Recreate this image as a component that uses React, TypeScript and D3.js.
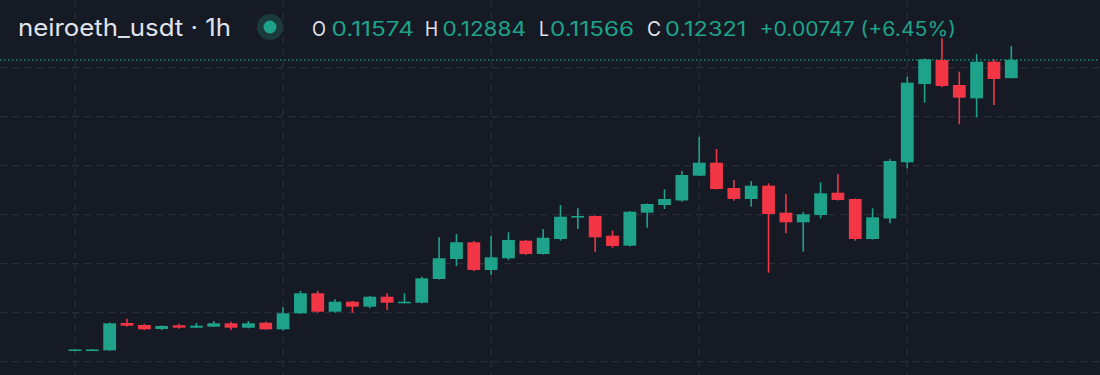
import React from "react";
import * as d3 from "d3";

const opens = [0.0046, 0.0046, 0.00465, 0.0158, 0.01498, 0.01335, 0.01486, 0.01388, 0.01429, 0.01567, 0.01388, 0.01592, 0.01322, 0.01976, 0.02792, 0.02041, 0.02449, 0.02245, 0.02653, 0.02384, 0.02408, 0.03376, 0.04192, 0.04874, 0.03743, 0.04221, 0.04939, 0.04396, 0.05008, 0.05894, 0.05947, 0.05143, 0.04735, 0.06082, 0.06396, 0.0658, 0.07592, 0.08122, 0.0709, 0.06641, 0.07184, 0.06082, 0.0569, 0.05988, 0.06898, 0.06641, 0.05008, 0.05845, 0.08139, 0.11335, 0.12314, 0.11294, 0.10751, 0.12245, 0.11574];
const highs = [0.0051, 0.0051, 0.016, 0.01755, 0.0154, 0.0148, 0.0155, 0.0158, 0.01661, 0.0163, 0.0166, 0.0164, 0.0222, 0.02886, 0.02886, 0.02547, 0.0248, 0.0268, 0.02792, 0.0279, 0.0347, 0.05078, 0.05212, 0.0493, 0.05143, 0.05282, 0.0497, 0.05416, 0.06396, 0.06261, 0.0597, 0.05347, 0.0615, 0.0646, 0.07037, 0.07784, 0.09184, 0.08682, 0.07416, 0.07376, 0.07282, 0.06845, 0.0611, 0.07322, 0.07661, 0.0666, 0.06261, 0.08261, 0.11633, 0.12376, 0.132, 0.11837, 0.12559, 0.12343, 0.12884];
const lows = [0.0045, 0.0045, 0.0044, 0.0144, 0.0129, 0.0129, 0.0134, 0.0138, 0.0142, 0.01294, 0.0136, 0.013, 0.0127, 0.0195, 0.02, 0.02, 0.02, 0.0218, 0.0211, 0.0238, 0.0238, 0.0336, 0.03906, 0.037, 0.03539, 0.0415, 0.0437, 0.0438, 0.0494, 0.05416, 0.0449, 0.0465, 0.047, 0.05469, 0.06233, 0.0653, 0.0758, 0.0703, 0.06571, 0.06327, 0.03633, 0.05241, 0.0449, 0.05853, 0.0658, 0.0494, 0.0499, 0.05649, 0.07894, 0.10571, 0.112, 0.0969, 0.09976, 0.10478, 0.11566];
const closes = [0.005, 0.005, 0.01567, 0.0147, 0.01322, 0.01457, 0.01388, 0.0147, 0.01567, 0.01388, 0.01567, 0.01322, 0.01976, 0.02792, 0.02041, 0.02449, 0.02245, 0.02653, 0.02408, 0.02449, 0.03404, 0.04221, 0.04874, 0.03743, 0.04261, 0.04967, 0.04396, 0.05061, 0.05918, 0.05947, 0.05078, 0.04722, 0.06122, 0.06437, 0.06641, 0.0762, 0.08122, 0.07049, 0.06641, 0.07184, 0.06029, 0.0569, 0.06016, 0.06873, 0.066, 0.05008, 0.05894, 0.08192, 0.11388, 0.12343, 0.11253, 0.10776, 0.12245, 0.11539, 0.12321];

const priceGrid = [0, 0.02, 0.04, 0.06, 0.08, 0.1, 0.12];
const timeGrid = [0, 12, 24, 36, 48];

const title = "neiroeth_usdt · 1h";
const ohlcLabels = ["O", "H", "L", "C"];
const ohlcValues = ["0.11574", "0.12884", "0.11566", "0.12321"];
const changeText = "+0.00747 (+6.45%)";
const lastClose = 0.12321;

const W = 1100;
const H = 375;
const BG = "#161a25";
const UP = "#1ea38a";
const DOWN = "#f23645";
const GRID = "#2a2e3a";
const TEXT = "#e1e3ea";

export default function App() {
  const x = d3.scaleLinear().domain([0, closes.length - 1]).range([75, 1011.3]);
  const y = d3.scaleLinear().domain([0, 0.12]).range([361.7, 67.7]);
  const bw = 12.8;

  const labelX = [312, 425, 539, 647];
  const labelLen = [14, 13, 10, 14];
  const valueX = [331.5, 442.6, 550, 665];
  const valueLen = [82.5, 83.4, 84, 81.4];

  return (
    <svg
      width={W}
      height={H}
      style={{ position: "fixed", left: 0, top: 0, display: "block" }}
      fontFamily="Inter, 'Noto Sans', sans-serif"
    >
      <rect x={0} y={0} width={W} height={H} fill={BG} />
      {priceGrid.map((p) => (
        <line key={"h" + p} x1={0} x2={W} y1={y(p)} y2={y(p)} stroke={GRID} strokeWidth={1.2} strokeDasharray="7 5" />
      ))}
      {timeGrid.map((t) => (
        <line key={"v" + t} x1={x(t)} x2={x(t)} y1={0} y2={H} stroke={GRID} strokeWidth={1.2} strokeDasharray="7 5" />
      ))}
      <line x1={0} x2={W} y1={y(lastClose)} y2={y(lastClose)} stroke={UP} strokeWidth={1.2} strokeDasharray="1.5 2.5" />
      {closes.map((c, i) => {
        const o = opens[i];
        const up = c >= o;
        const col = up ? UP : DOWN;
        const top = y(Math.max(o, c));
        const bot = y(Math.min(o, c));
        const h = Math.max(1.6, bot - top);
        return (
          <g key={i}>
            <line x1={x(i)} x2={x(i)} y1={y(highs[i])} y2={y(lows[i])} stroke={col} strokeWidth={1.6} />
            <rect x={x(i) - bw / 2} y={top} width={bw} height={h} fill={col} />
          </g>
        );
      })}
      <text x={18} y={36} fontSize={24} fill={TEXT} textLength={213} lengthAdjust="spacingAndGlyphs">{title}</text>
      <circle cx={270} cy={27} r={13} fill="#1c3a3c" />
      <circle cx={270} cy={27} r={6.5} fill={UP} />
      {ohlcLabels.map((l, i) => (
        <g key={l}>
          <text x={labelX[i]} y={36} fontSize={19.5} fill={TEXT} textLength={labelLen[i]} lengthAdjust="spacingAndGlyphs">{l}</text>
          <text x={valueX[i]} y={36} fontSize={19.5} fill={UP} textLength={valueLen[i]} lengthAdjust="spacingAndGlyphs">{ohlcValues[i]}</text>
        </g>
      ))}
      <text x={759.5} y={36} fontSize={19.5} fill={UP} textLength={196.5} lengthAdjust="spacingAndGlyphs">{changeText}</text>
    </svg>
  );
}
